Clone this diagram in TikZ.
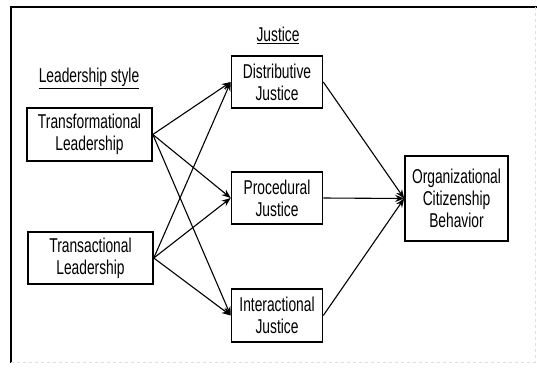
\documentclass[tikz,border=0pt]{standalone}
\usepackage{fontspec}
\setmainfont[FakeStretch=0.69]{Liberation Sans}
\usepackage{tikz}
\usetikzlibrary{arrows, arrows.meta, positioning}

\begin{document}
\begin{tikzpicture}[x=1pt, y=-1pt, font=\fontsize{20}{22}\selectfont,
    box/.style={draw, line width=1.6pt, align=center, inner sep=0pt},
    link/.style={-{Stealth[length=9pt, width=7pt, inset=3pt]}, line width=1.1pt}]
    \useasboundingbox (0,0) rectangle (537,367);
    % frame
    \draw [line width=2pt] (11,363) -- (11,7) -- (537,7);
    \draw [gray!25, dashed] (535,7) -- (535,362) -- (11,362);
    % headings
    \node (lead) at (89,78) {\underline{Leadership style}};
    \node (just) at (278,35) {\underline{Justice}};
    % leadership boxes
    \node [box, minimum width=125pt, minimum height=53pt] (trf) at (89.5,134.5) {Transformational\\Leadership};
    \node [box, minimum width=125pt, minimum height=52pt] (trs) at (90.5,258) {Transactional\\Leadership};
    % justice boxes
    \node [box, minimum width=91pt, minimum height=52pt] (dis) at (277,82) {Distributive\\Justice};
    \node [box, minimum width=91pt, minimum height=52pt] (pro) at (277,198) {Procedural\\Justice};
    \node [box, minimum width=91pt, minimum height=53pt] (int) at (277,315.5) {Interactional\\Justice};
    % outcome
    \node [box, minimum width=103pt, minimum height=85pt] (ocb) at (456.5,198.5) {Organizational\\Citizenship\\Behavior};
    % arrows
    \foreach \src in {trf,trs} {
        \foreach \dst in {dis,pro,int} { \draw [link] (\src.east) -- (\dst.west); }
    }
    \foreach \src in {dis,pro,int} { \draw [link] (\src.east) -- (ocb.west); }
\end{tikzpicture}
\end{document}
